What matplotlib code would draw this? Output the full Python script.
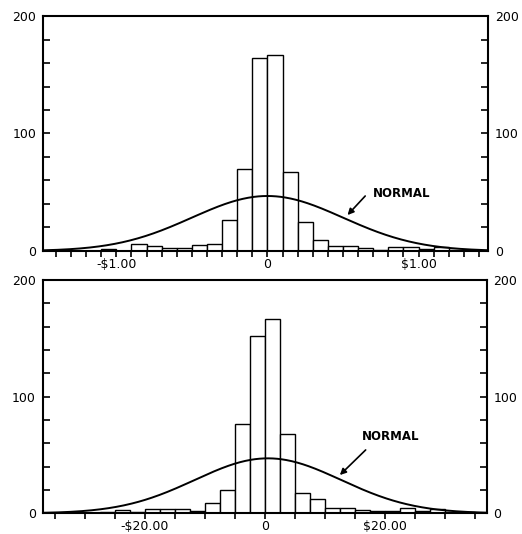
import numpy as np
import matplotlib.pyplot as plt
from matplotlib.ticker import MultipleLocator

# top panel: price changes, $0.10 bins from -$1.50
top_start = -1.5
top_width = 0.1
top_counts = [0, 0.5, 0, 0, 1.7, 0, 5.8, 4, 2.7, 2.7, 5, 6.2, 26.5, 69.5, 164,
              167, 67, 25, 9.3, 4.4, 4.4, 2.2, 1.1, 3.1, 3.1, 1.5, 3.1, 1.2, 0.8, 0]
top_mu, top_sigma, top_peak = 0.0, 0.5, 46.8
top_ticks = [-1, 0, 1]
top_labels = ['-$1.00', '0', '$1.00']

# bottom panel: $2.50 bins from -$37.50
bot_start = -37.5
bot_width = 2.5
bot_counts = [0, 0, 0, 0.5, 1.5, 3, 1, 3.5, 3.5, 3.5, 2.2, 8.6, 20, 76.5, 152,
              166.6, 68, 17.5, 12.3, 4.8, 4.8, 2.6, 1.8, 1.8, 4.7, 2.3, 4, 1.2, 0.8, 0]
bot_mu, bot_sigma, bot_peak = 0.5, 12.2, 47.1
bot_ticks = [-20, 0, 20]
bot_labels = ['-$20.00', '0', '$20.00']

y_ticks = [0, 100, 200]

fig = plt.figure(figsize=(5.22, 5.34), dpi=100)
ax1 = fig.add_axes([0.0824, 0.530, 0.8526, 0.440])
ax2 = fig.add_axes([0.0818, 0.0388, 0.8502, 0.4369])


def panel(ax, start, width, counts, mu, sigma, peak, ticks, labels, xlim, minor,
          text_xy, arrow_tail, arrow_head):
    lefts = start + width * np.arange(len(counts))
    ax.bar(lefts, counts, width=width, align='edge', facecolor='white',
           edgecolor='black', linewidth=1.0, zorder=2)
    xs = np.linspace(xlim[0], xlim[1], 400)
    ax.plot(xs, peak * np.exp(-0.5 * ((xs - mu) / sigma) ** 2), color='black',
            linewidth=1.4, zorder=3)
    ax.set_xlim(*xlim)
    ax.set_ylim(0, 200)
    for s in ax.spines.values():
        s.set_linewidth(1.5)
    ax.set_xticks(ticks)
    ax.set_xticklabels(labels)
    ax.xaxis.set_minor_locator(MultipleLocator(minor))
    ax.tick_params(axis='x', which='both', direction='out', length=4, width=1.2,
                   pad=1, labelsize=9)
    ax.set_yticks(y_ticks)
    ax.yaxis.set_minor_locator(MultipleLocator(20))
    ax.tick_params(axis='y', which='both', direction='in', length=5, width=1.2,
                   left=True, right=True, labelleft=True, labelright=True,
                   labelsize=9, pad=5)
    ax.text(*text_xy, 'NORMAL', fontsize=8.5, fontweight='bold', ha='center',
            va='center')
    ax.annotate('', xy=arrow_head, xytext=arrow_tail,
                arrowprops=dict(arrowstyle='-|>', color='black', lw=1.2,
                                shrinkA=0, shrinkB=0, mutation_scale=9))


panel(ax1, top_start, top_width, top_counts, top_mu, top_sigma, top_peak,
      top_ticks, top_labels, (-1.485, 1.46), 0.1,
      (0.89, 49), (0.647, 46.8), (0.53, 30.6))
panel(ax2, bot_start, bot_width, bot_counts, bot_mu, bot_sigma, bot_peak,
      bot_ticks, bot_labels, (-37.05, 36.95), 5,
      (21, 66), (16.8, 54.3), (12.5, 32.8))

fig.savefig('out.png', dpi=100)
